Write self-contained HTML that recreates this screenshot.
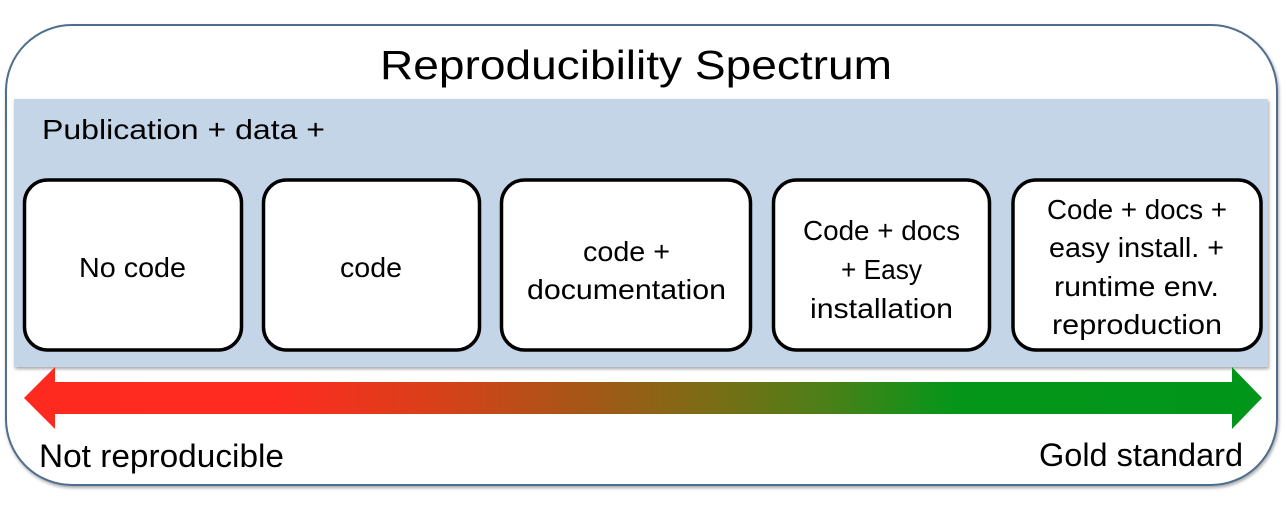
<!DOCTYPE html>
<html><head><meta charset="utf-8"><style>
html,body{margin:0;padding:0;background:#fff;}
svg{display:block;}
text{font-family:"Liberation Sans",sans-serif;fill:#000;}
</style></head><body>
<svg width="1286" height="506" viewBox="0 0 1286 506" xmlns="http://www.w3.org/2000/svg">
<defs>
<linearGradient id="g" gradientUnits="userSpaceOnUse" x1="24" y1="0" x2="1262" y2="0">
<stop offset="0" stop-color="#FF2A1F"/>
<stop offset="0.2" stop-color="#FF2B20"/>
<stop offset="0.33" stop-color="#D9401A"/>
<stop offset="0.47" stop-color="#9E5A17"/>
<stop offset="0.56" stop-color="#786E15"/>
<stop offset="0.65" stop-color="#4A8018"/>
<stop offset="0.75" stop-color="#059619"/>
<stop offset="1" stop-color="#00961A"/>
</linearGradient>
<filter id="sh" x="-5%" y="-5%" width="110%" height="115%">
<feGaussianBlur in="SourceAlpha" stdDeviation="1.5"/>
<feOffset dx="1" dy="2" result="b"/>
<feComponentTransfer><feFuncA type="linear" slope="0.35"/></feComponentTransfer>
<feMerge><feMergeNode/><feMergeNode in="SourceGraphic"/></feMerge>
</filter>
</defs>
<rect x="6" y="25" width="1271" height="460" rx="66" ry="66" fill="#fff" stroke="#4F6D8E" stroke-width="2" filter="url(#sh)"/>
<rect x="14" y="99" width="1254" height="268" fill="#C5D5E8" filter="url(#sh)"/>
<text x="380" y="79" font-size="41" textLength="512" lengthAdjust="spacingAndGlyphs">Reproducibility Spectrum</text>
<text x="42" y="139" font-size="28" textLength="283" lengthAdjust="spacingAndGlyphs">Publication + data +</text>
<g fill="#fff" stroke="#000" stroke-width="3.5">
<rect x="24.5" y="180" width="217" height="170" rx="23"/>
<rect x="263.5" y="180" width="216" height="170" rx="23"/>
<rect x="501.5" y="180" width="249" height="170" rx="23"/>
<rect x="773.5" y="180" width="216" height="170" rx="23"/>
<rect x="1013" y="180" width="248" height="170" rx="23"/>
</g>
<g font-size="28">
<text x="79" y="277" textLength="107" lengthAdjust="spacingAndGlyphs">No code</text>
<text x="340" y="277" textLength="62" lengthAdjust="spacingAndGlyphs">code</text>
<text x="583" y="261" textLength="87" lengthAdjust="spacingAndGlyphs">code +</text>
<text x="527" y="299" textLength="199" lengthAdjust="spacingAndGlyphs">documentation</text>
<text x="803" y="240" textLength="157" lengthAdjust="spacingAndGlyphs">Code + docs</text>
<text x="841" y="279" textLength="81" lengthAdjust="spacingAndGlyphs">+ Easy</text>
<text x="810" y="318" textLength="143" lengthAdjust="spacingAndGlyphs">installation</text>
<text x="1047" y="219" textLength="180" lengthAdjust="spacingAndGlyphs">Code + docs +</text>
<text x="1049" y="257" textLength="175" lengthAdjust="spacingAndGlyphs">easy install. +</text>
<text x="1054" y="296" textLength="165" lengthAdjust="spacingAndGlyphs">runtime env.</text>
<text x="1052" y="334" textLength="170" lengthAdjust="spacingAndGlyphs">reproduction</text>
</g>
<polygon points="24,398 55,367 55,382 1232,382 1232,367 1262,398 1232,429 1232,414 55,414 55,429" fill="url(#g)"/>
<text x="39" y="467" font-size="32" textLength="245" lengthAdjust="spacingAndGlyphs">Not reproducible</text>
<text x="1039" y="466" font-size="32" textLength="204" lengthAdjust="spacingAndGlyphs">Gold standard</text>
</svg>
</body></html>
